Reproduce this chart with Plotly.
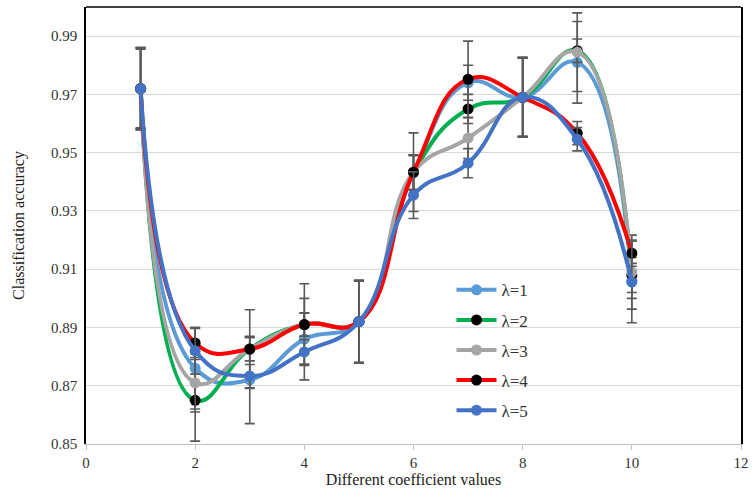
import plotly.graph_objects as go

x_vals = [1, 2, 3, 4, 5, 6, 7, 8, 9, 10]

lam1 = [0.972, 0.876, 0.872, 0.886, 0.892, 0.943, 0.974, 0.969, 0.981, 0.906]
lam2 = [0.972, 0.865, 0.8826, 0.891, 0.892, 0.9433, 0.965, 0.969, 0.985, 0.908]
lam3 = [0.972, 0.871, 0.8826, 0.891, 0.892, 0.9433, 0.955, 0.969, 0.9845, 0.909]
lam4 = [0.972, 0.8847, 0.8826, 0.891, 0.892, 0.9433, 0.9752, 0.969, 0.9567, 0.9155]
lam5 = [0.972, 0.882, 0.8733, 0.8816, 0.892, 0.9354, 0.9464, 0.969, 0.9546, 0.9056]

err1 = [0.014, 0.014, 0.015, 0.014, 0.014, 0.006, 0.006, 0.0135, 0.014, 0.006]
err2 = [0.014, 0.014, 0.004, 0.004, 0.014, 0.006, 0.005, 0.0135, 0.004, 0.006]
err3 = [0.0138, 0.010, 0.004, 0.004, 0.0143, 0.006, 0.007, 0.0134, 0.0135, 0.0127]
err4 = [0.0135, 0.005, 0.0135, 0.014, 0.014, 0.0135, 0.0131, 0.0137, 0.004, 0.0045]
err5 = [0.0142, 0.008, 0.004, 0.0042, 0.0141, 0.008, 0.005, 0.0137, 0.004, 0.014]

names = ["λ=1", "λ=2", "λ=3", "λ=4", "λ=5"]
series = [lam1, lam2, lam3, lam4, lam5]
errors = [err1, err2, err3, err4, err5]
line_colors = ["#5B9BD5", "#00B050", "#A5A5A5", "#FF0000", "#4472C4"]
marker_colors = ["#5B9BD5", "#000000", "#A5A5A5", "#000000", "#4472C4"]

x_ticks = [0, 2, 4, 6, 8, 10, 12]
y_ticks = [0.85, 0.87, 0.89, 0.91, 0.93, 0.95, 0.97, 0.99]

FONT = "Times New Roman, Liberation Serif, DejaVu Serif, serif"

fig = go.Figure()
for name, ys, es, lc, mc in zip(names, series, errors, line_colors, marker_colors):
    fig.add_trace(go.Scatter(
        x=x_vals, y=ys, name=name, mode="lines+markers",
        legendgroup=name,
        line=dict(color=lc, width=4, shape="spline", smoothing=1.3),
        marker=dict(color=mc, size=11),
        error_y=dict(type="data", array=es, visible=True,
                     color="#595959", thickness=1.6, width=5),
    ))

fig.add_shape(type="line", xref="paper", yref="paper", x0=0, x1=1, y0=1, y1=1,
              line=dict(color="black", width=1.5))

fig.update_layout(
    width=752, height=493,
    margin=dict(l=86, r=11, t=7, b=49),
    paper_bgcolor="white", plot_bgcolor="white",
    font=dict(family=FONT, size=15, color="#222222"),
    showlegend=True,
    legend=dict(x=0.558, y=0.393, xanchor="left", yanchor="top",
                bgcolor="rgba(0,0,0,0)", font=dict(family=FONT, size=17, color="#333333"),
                tracegroupgap=5, itemwidth=40),
    xaxis=dict(range=[0, 12], tickvals=x_ticks, ticktext=[str(v) for v in x_ticks],
               showgrid=False, zeroline=False, showline=True, linecolor="#BFBFBF",
               linewidth=1.2, ticks="outside", ticklen=5, tickcolor="#BFBFBF",
               automargin=False,
               tickfont=dict(family=FONT, size=15, color="#333333"),
               title=dict(text="Different coefficient values", standoff=3,
                          font=dict(family=FONT, size=16, color="#222222"))),
    yaxis=dict(range=[0.85, 1.0], tickvals=y_ticks,
               ticktext=[f"{v:.2f}" for v in y_ticks],
               showgrid=True, gridcolor="#D9D9D9", gridwidth=1.2, zeroline=False,
               showline=True, linecolor="black", linewidth=1.5, mirror=True,
               ticks="", ticklabelstandoff=4, automargin=False,
               tickfont=dict(family=FONT, size=15, color="#333333"),
               title=dict(text="Classification accuracy", standoff=22,
                          font=dict(family=FONT, size=16, color="#222222"))),
)

fig.write_html("out.html", config={"displayModeBar": False},
               post_script="document.body.style.margin='0px';")
